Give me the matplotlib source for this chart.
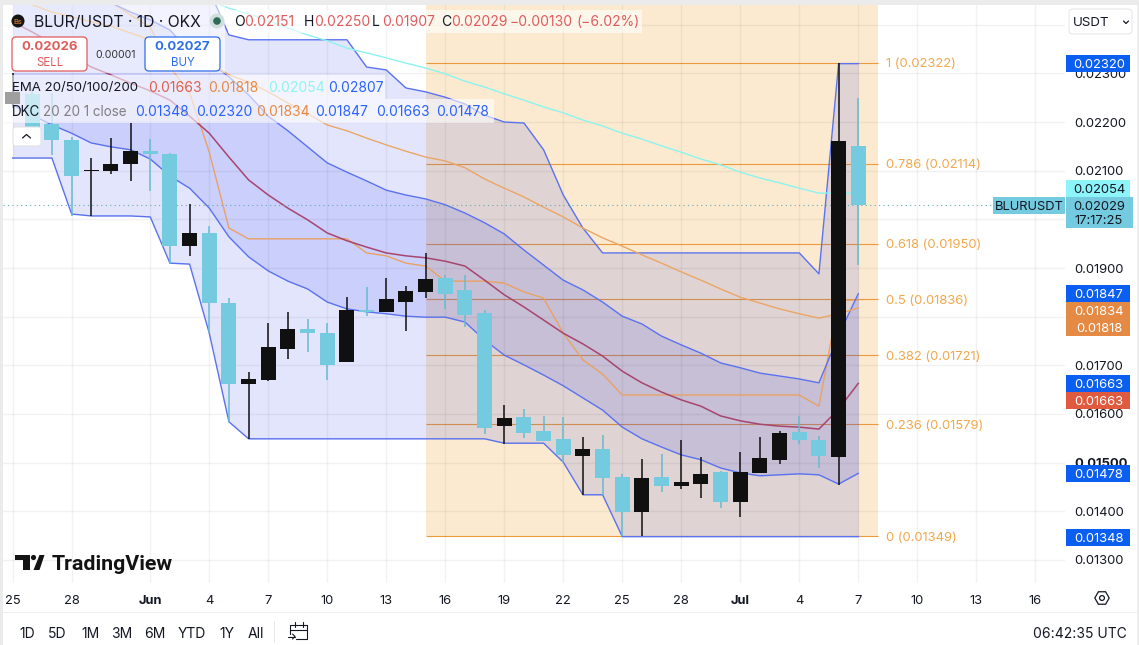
import numpy as np
import matplotlib
matplotlib.use("Agg")
import matplotlib.pyplot as plt
from matplotlib.patches import Rectangle, FancyBboxPatch, Circle, Polygon, RegularPolygon

plt.rcParams['font.family'] = ['Inter', 'DejaVu Sans']

# all prices are in units of 0.00001
opens = [2237, 2258, 2196, 2163, 2099, 2099, 2114, 2140, 2134, 1945, 1972, 1828, 1662, 1670, 1734, 1775, 1766, 1707, 1814, 1810, 1830, 1851,
         1880, 1855, 1808, 1575, 1594, 1565, 1549, 1514, 1528, 1471, 1399, 1471, 1452, 1456, 1481, 1419, 1479, 1506, 1563, 1547, 1512, 2151]
highs = [2301, 2270, 2260, 2169, 2126, 2167, 2198, 2165, 2136, 2032, 1986, 1838, 1686, 1787, 1810, 1795, 1787, 1840, 1861, 1880, 1863, 1931,
         1886, 1886, 1814, 1619, 1610, 1596, 1594, 1553, 1557, 1477, 1508, 1518, 1547, 1512, 1483, 1522, 1553, 1565, 1596, 1555, 2322, 2250]
lows = [2229, 2167, 2132, 2007, 2007, 2093, 2079, 2058, 1908, 1925, 1766, 1584, 1549, 1668, 1713, 1727, 1670, 1707, 1801, 1810, 1771, 1838,
        1816, 1779, 1559, 1538, 1551, 1545, 1501, 1434, 1434, 1349, 1349, 1440, 1446, 1427, 1407, 1388, 1479, 1497, 1538, 1489, 1454, 1907]
closes = [2262, 2184, 2163, 2089, 2101, 2114, 2140, 2134, 1945, 1972, 1828, 1662, 1672, 1738, 1775, 1766, 1701, 1814, 1810, 1836, 1853, 1877,
          1847, 1803, 1571, 1592, 1561, 1545, 1516, 1528, 1469, 1399, 1469, 1452, 1460, 1477, 1419, 1481, 1510, 1561, 1547, 1514, 2161, 2029]

dc_upper = [2500, 2500, 2500, 2500, 2500, 2500, 2500, 2500, 2500, 2500, 2471, 2379, 2369, 2369, 2369, 2369, 2369, 2369, 2313, 2307, 2270, 2262,
            2251, 2237, 2214, 2200, 2198, 2143, 2050, 1982, 1931, 1931, 1931, 1931, 1931, 1931, 1931, 1931, 1931, 1931, 1931, 1888, 2320, 2320]
dc_basis = [2500, 2500, 2500, 2500, 2500, 2447, 2420, 2395, 2313, 2260, 2138, 1982, 1960, 1960, 1960, 1960, 1960, 1960, 1931, 1925, 1910, 1904,
            1873, 1873, 1873, 1869, 1851, 1838, 1766, 1711, 1682, 1639, 1639, 1639, 1639, 1639, 1639, 1639, 1639, 1639, 1639, 1616, 1834, 1834]
dc_lower = [2126, 2126, 2126, 2011, 2007, 2007, 2007, 2005, 1910, 1908, 1766, 1584, 1549, 1549, 1549, 1549, 1549, 1549, 1549, 1549, 1549, 1549,
            1549, 1549, 1549, 1540, 1540, 1540, 1501, 1434, 1434, 1348, 1348, 1348, 1348, 1348, 1348, 1348, 1348, 1348, 1348, 1348, 1348, 1348]

kc_upper = [2522, 2512, 2502, 2482, 2465, 2445, 2426, 2410, 2389, 2344, 2323, 2293, 2256, 2212, 2182, 2149, 2116, 2097, 2079, 2060, 2050, 2042,
            2030, 2013, 1993, 1970, 1937, 1906, 1875, 1855, 1830, 1801, 1785, 1760, 1742, 1725, 1705, 1695, 1684, 1678, 1672, 1664, 1762, 1847]
ema20 = [2406, 2385, 2362, 2338, 2313, 2297, 2280, 2264, 2245, 2212, 2177, 2128, 2081, 2050, 2023, 1999, 1972, 1956, 1943, 1931, 1925, 1921,
         1914, 1904, 1875, 1845, 1820, 1793, 1766, 1744, 1719, 1688, 1664, 1645, 1629, 1616, 1596, 1586, 1579, 1575, 1573, 1569, 1610, 1663]
kc_lower = [2235, 2214, 2194, 2177, 2157, 2149, 2143, 2124, 2089, 2064, 2023, 1964, 1923, 1894, 1873, 1857, 1830, 1816, 1810, 1806, 1801, 1799,
            1799, 1789, 1752, 1721, 1701, 1680, 1658, 1633, 1608, 1573, 1549, 1532, 1516, 1506, 1489, 1479, 1473, 1475, 1477, 1475, 1456, 1478]

ema50 = [2457, 2441, 2426, 2416, 2406, 2397, 2383, 2369, 2352, 2338, 2323, 2297, 2282, 2262, 2239, 2217, 2194, 2182, 2167, 2153, 2140, 2128,
         2120, 2106, 2083, 2064, 2046, 2025, 2005, 1982, 1962, 1945, 1927, 1910, 1892, 1875, 1857, 1840, 1828, 1816, 1806, 1797, 1806, 1818]
ema100 = [2590, 2576, 2562, 2547, 2533, 2519, 2504, 2490, 2476, 2461, 2449, 2434, 2422, 2408, 2393, 2379, 2367, 2352, 2342, 2332, 2321, 2311,
          2299, 2284, 2272, 2258, 2245, 2231, 2219, 2204, 2192, 2177, 2165, 2151, 2138, 2124, 2112, 2097, 2085, 2075, 2064, 2054, 2054, 2054]

fib_ratios = ['1', '0.786', '0.618', '0.5', '0.382', '0.236', '0']
fib_prices = [2322, 2114, 1950, 1836, 1721, 1579, 1349]

price_ticks = [1300, 1400, 1500, 1600, 1700, 1800, 1900, 2000, 2100, 2200, 2300, 2400]
# these sit behind the price tags and the unit box, so only their grid line shows
hidden_ticks = [1800, 2000, 2400]
date_pos = [0, 3, 7, 10, 13, 16, 19, 22, 25, 28, 31, 34, 37, 40, 43, 46, 49, 52]
date_labels = ['25', '28', 'Jun', '4', '7', '10', '13', '16', '19', '22', '25', '28', 'Jul', '4', '7', '10', '13', '16']

range_buttons = ['1D', '5D', '1M', '3M', '6M', 'YTD', '1Y', 'All']
range_x = [27, 57, 90, 122, 155, 192, 227, 256]

BLUE = '#2a3cf0'
LINE_BLUE = '#5a72ee'
CYAN = '#74cbdf'
BLACK = '#101010'
FIB = '#ec9a3c'
RED = '#e05c5c'
TAG_BLUE = '#0a5ff0'
TAG_ORANGE = '#e58a44'

def px(values):
    return np.array(values) / 1e5

W, H = 1139, 645
fig = plt.figure(figsize=(W / 100, H / 100), dpi=100, facecolor='#ffffff')

# chart pane, index -> pixel is 12.6 + 19.667 * i
left, right, top, bottom = 3, 1065, 5, 583
ax = fig.add_axes([left / W, 1 - bottom / H, (right - left) / W, (bottom - top) / H])
ax.set_xlim((left - 12.6) / 19.667, (right - 12.6) / 19.667)
ax.set_ylim(0.012527, 0.024405)
for s in ax.spines.values():
    s.set_visible(False)

days = np.arange(len(opens))

ax.set_axisbelow('line')
ax.grid(True, color='black', alpha=0.05, linewidth=1.0)
ax.set_yticks(px(price_ticks))
ax.set_yticklabels(['' if p in hidden_ticks else '%.5f' % (p / 1e5) for p in price_ticks])
ax.yaxis.tick_right()
ax.tick_params(axis='y', length=0, pad=6.4, labelsize=9.4, labelcolor='#131722')
ax.set_xticks(date_pos)
ax.set_xticklabels(date_labels)
ax.tick_params(axis='x', length=0, pad=8.5, labelsize=9.3, labelcolor='#131722')
for lab in ax.get_xticklabels():
    if lab.get_text() in ('Jun', 'Jul'):
        lab.set_fontweight('bold')
for lab in ax.get_yticklabels():
    if lab.get_text() == '0.01500':
        lab.set_fontweight('bold')

# fib retracement
ax.add_patch(Rectangle((21, px(1349)), 23, 0.03, facecolor='#fbeacf', edgecolor='none', zorder=0.5))
for ratio, price in zip(fib_ratios, fib_prices):
    ax.hlines(px(price), 21, 44, color=FIB, linewidth=0.8, zorder=0.8)
    ax.text(44.4, px(price), '%s (%.5f)' % (ratio, px(price)), color='#f0a84c', fontsize=9.4, va='center_baseline', ha='left')

# bands
ax.fill_between(days, px(dc_lower), px(dc_upper), color=BLUE, alpha=0.13, linewidth=0, zorder=1)
ax.fill_between(days, px(kc_lower), px(kc_upper), color=BLUE, alpha=0.13, linewidth=0, zorder=1)
ax.plot(days, px(dc_upper), color=LINE_BLUE, lw=1.0, zorder=2)
ax.plot(days, px(dc_lower), color=LINE_BLUE, lw=1.0, zorder=2)
ax.plot(days, px(dc_basis), color='#e9a263', lw=1.0, zorder=2)
ax.plot(days, px(kc_upper), color=LINE_BLUE, lw=1.0, zorder=2)
ax.plot(days, px(kc_lower), color=LINE_BLUE, lw=1.0, zorder=2)
ax.plot(days, px(ema20), color='#a8456f', lw=1.1, zorder=2)
ax.plot(days, px(ema50), color='#eba666', lw=1.0, zorder=2)
ax.plot(days, px(ema100), color='#8df3f0', lw=1.0, zorder=2)

# last price line
ax.axhline(px(closes[-1]), color='#6aa6b4', lw=0.8, ls=(0, (1, 3)), zorder=2)

# candles
for i in days:
    up = closes[i] >= opens[i]
    col = BLACK if up else CYAN
    ax.vlines(i, px(lows[i]), px(highs[i]), color=BLACK if up else '#66bbd0', linewidth=1.1, zorder=3)
    ax.bar(i, px(abs(closes[i] - opens[i])), bottom=px(min(opens[i], closes[i])), width=0.76, color=col, linewidth=0, zorder=3.1)

# everything else is placed in pixels on a transparent overlay
ov = fig.add_axes([0, 0, 1, 1], facecolor='none')
ov.set_xlim(0, W)
ov.set_ylim(H, 0)
ov.axis('off')

def box(x0, y0, x1, y1, fc, alpha=1.0, z=5):
    ov.add_patch(Rectangle((x0, y0), x1 - x0, y1 - y0, facecolor=fc, edgecolor='none', alpha=alpha, zorder=z))

def label(x, y, s, color='#131722', size=9.5, ha='left', weight='normal', z=7):
    ov.text(x, y, s, color=color, fontsize=size, ha=ha, va='center_baseline', fontweight=weight, zorder=z)

def round_box(x0, y0, x1, y1, ec):
    ov.add_patch(FancyBboxPatch((x0 + 3, y0 + 3), x1 - x0 - 6, y1 - y0 - 6, boxstyle='round,pad=3,rounding_size=4',
                                facecolor='white', edgecolor=ec, linewidth=0.9, zorder=6))

def stroke(xs, ys, lw=0.8):
    ov.plot(xs, ys, color='#131722', lw=lw, zorder=7, solid_capstyle='round')

# outer frame
box(0, 0, W, 5, '#ebebeb')
box(0, 0, 3, H, '#ebebeb')
box(3, 611.5, 1137, 613, '#eceef0')
box(1137, 5, 1139, H, '#eeeeee')

# legend backdrops
box(3, 5, 225, 73, 'white', 0.55)
box(228, 10, 642, 33, 'white', 0.6)
box(3, 75, 385, 99, 'white', 0.6)
box(3, 99, 494, 123, 'white', 0.6)

ov.add_patch(Circle((18, 21), 6.5, facecolor='#141414', edgecolor='none', zorder=6))
label(18, 21, 'Bs', '#f08a30', 5.5, ha='center')
label(34, 21, 'BLUR/USDT · 1D · OKX', size=11.3)
ov.add_patch(Circle((217, 21), 7.5, facecolor='#cfe0dc', edgecolor='none', zorder=6))
ov.add_patch(Circle((217, 21), 3.8, facecolor='#2f6b5a', edgecolor='none', zorder=6))

ohlc_x = [234, 304, 372, 441]
ohlc_names = ['O', 'H', 'L', 'C']
ohlc_vals = [opens[-1], highs[-1], lows[-1], closes[-1]]
for x, n, v in zip(ohlc_x, ohlc_names, ohlc_vals):
    label(x, 21, n, size=10)
    label(x + 10, 21, '%.5f' % px(v), RED, 10)
label(510, 21, '−0.00130', RED, 10)
label(577, 21, '(−6.02%)', RED, 10)

round_box(12, 37, 87, 71, RED)
label(49.5, 46, '0.02026', RED, 9.5, 'center', 'bold')
label(49.5, 61, 'SELL', RED, 8.3, 'center')
label(116, 54, '0.00001', '#333333', 7.6, 'center')
round_box(145, 37, 220, 71, '#2f6fe8')
label(182.5, 46, '0.02027', '#2f6fe8', 9.5, 'center', 'bold')
label(182.5, 61, 'BUY', '#2f6fe8', 8.3, 'center')

label(12, 87, 'EMA 20/50/100/200', size=9.5)
for x, s, c in zip([148, 208, 268, 328], ['0.01663', '0.01818', '0.02054', '0.02807'], ['#e0604a', '#e58a44', '#8df3f5', '#2962ff']):
    label(x, 87, s, c, 10)
label(12, 111, 'DKC', size=9.7)
label(43, 111, '20 20 1 close', '#808080', 9.7)
for x, s, c in zip([135, 196, 256, 315, 376, 436], ['0.01348', '0.02320', '0.01834', '0.01847', '0.01663', '0.01478'],
                   ['#2962ff', '#2962ff', '#e58a44', '#2962ff', '#2962ff', '#2962ff']):
    label(x, 111, s, c, 10)

ov.add_patch(FancyBboxPatch((15, 129), 24, 15, boxstyle='round,pad=2,rounding_size=3', facecolor='white', edgecolor='#e3e3e3', linewidth=0.8, zorder=6))
stroke([22.5, 26.5, 30.5], [138, 134.5, 138], 0.9)

# logo
box(15, 555, 30, 560, '#131313', z=6)
box(23, 555, 30, 570, '#131313', z=6)
ov.add_patch(Circle((33.5, 557.5), 2.6, facecolor='#131313', edgecolor='none', zorder=6))
ov.add_patch(Polygon([(39.5, 555), (44.5, 555), (39.5, 570), (33.5, 570)], facecolor='#131313', edgecolor='none', zorder=6))
ov.text(52, 563, 'TradingView', fontsize=15.4, fontweight='bold', family=['Roboto', 'DejaVu Sans'], color='#131313',
        va='center_baseline', ha='left', zorder=7)

# price tags
tags = [(55, '0.02320', TAG_BLUE, 'white'), (180, '0.02054', '#8df5fa', '#131722'), (285, '0.01847', TAG_BLUE, 'white'),
        (302, '0.01834', TAG_ORANGE, 'white'), (319, '0.01818', TAG_ORANGE, 'white'), (375, '0.01663', TAG_BLUE, 'white'),
        (392, '0.01663', '#df5a3e', 'white'), (465, '0.01478', TAG_BLUE, 'white'), (529, '0.01348', TAG_BLUE, 'white')]
for y0, s, fc, tc in tags:
    box(1066, y0, 1130, y0 + 17, fc)
    label(1099, y0 + 8.5, s, tc, 9.4, 'center')
box(993, 197, 1065, 214, CYAN)
label(1029, 205.5, 'BLURUSDT', '#131722', 9.3, 'center')
box(1066, 197, 1133, 228, CYAN)
label(1099, 205.5, '0.02029', '#131722', 9.4, 'center')
label(1099, 219.5, '17:17:25', '#131722', 9.4, 'center')

# top right unit box
ov.add_patch(FancyBboxPatch((1072, 12), 57, 19, boxstyle='round,pad=3,rounding_size=4', facecolor='white', edgecolor='#e6e8ec', linewidth=0.8, zorder=6))
label(1073, 22, 'USDT', size=9.6)
stroke([1123.5, 1126, 1128.5], [21, 23.5, 21], 0.9)

# settings icon
ov.add_patch(RegularPolygon((1102, 598), 6, radius=7.2, orientation=np.pi / 6, facecolor='none', edgecolor='#131722', linewidth=0.9, zorder=6))
ov.add_patch(Circle((1102, 598), 2.4, facecolor='none', edgecolor='#131722', linewidth=0.9, zorder=6))

# bottom toolbar
for x, s in zip(range_x, range_buttons):
    label(x, 632.5, s, size=10, ha='center')
box(274, 621, 275, 643, '#e6e8ec')
stroke([290, 290, 307, 307, 296], [634, 625, 625, 639, 639])
stroke([290, 307], [630, 630])
stroke([294.5, 294.5], [622, 627])
stroke([302.5, 302.5], [622, 627])
stroke([288, 295], [636.5, 636.5])
stroke([292.5, 295, 292.5], [634, 636.5, 639])
label(1127, 632.5, '06:42:35 UTC', size=10, ha='right')

fig.savefig('out.png', dpi=100)
